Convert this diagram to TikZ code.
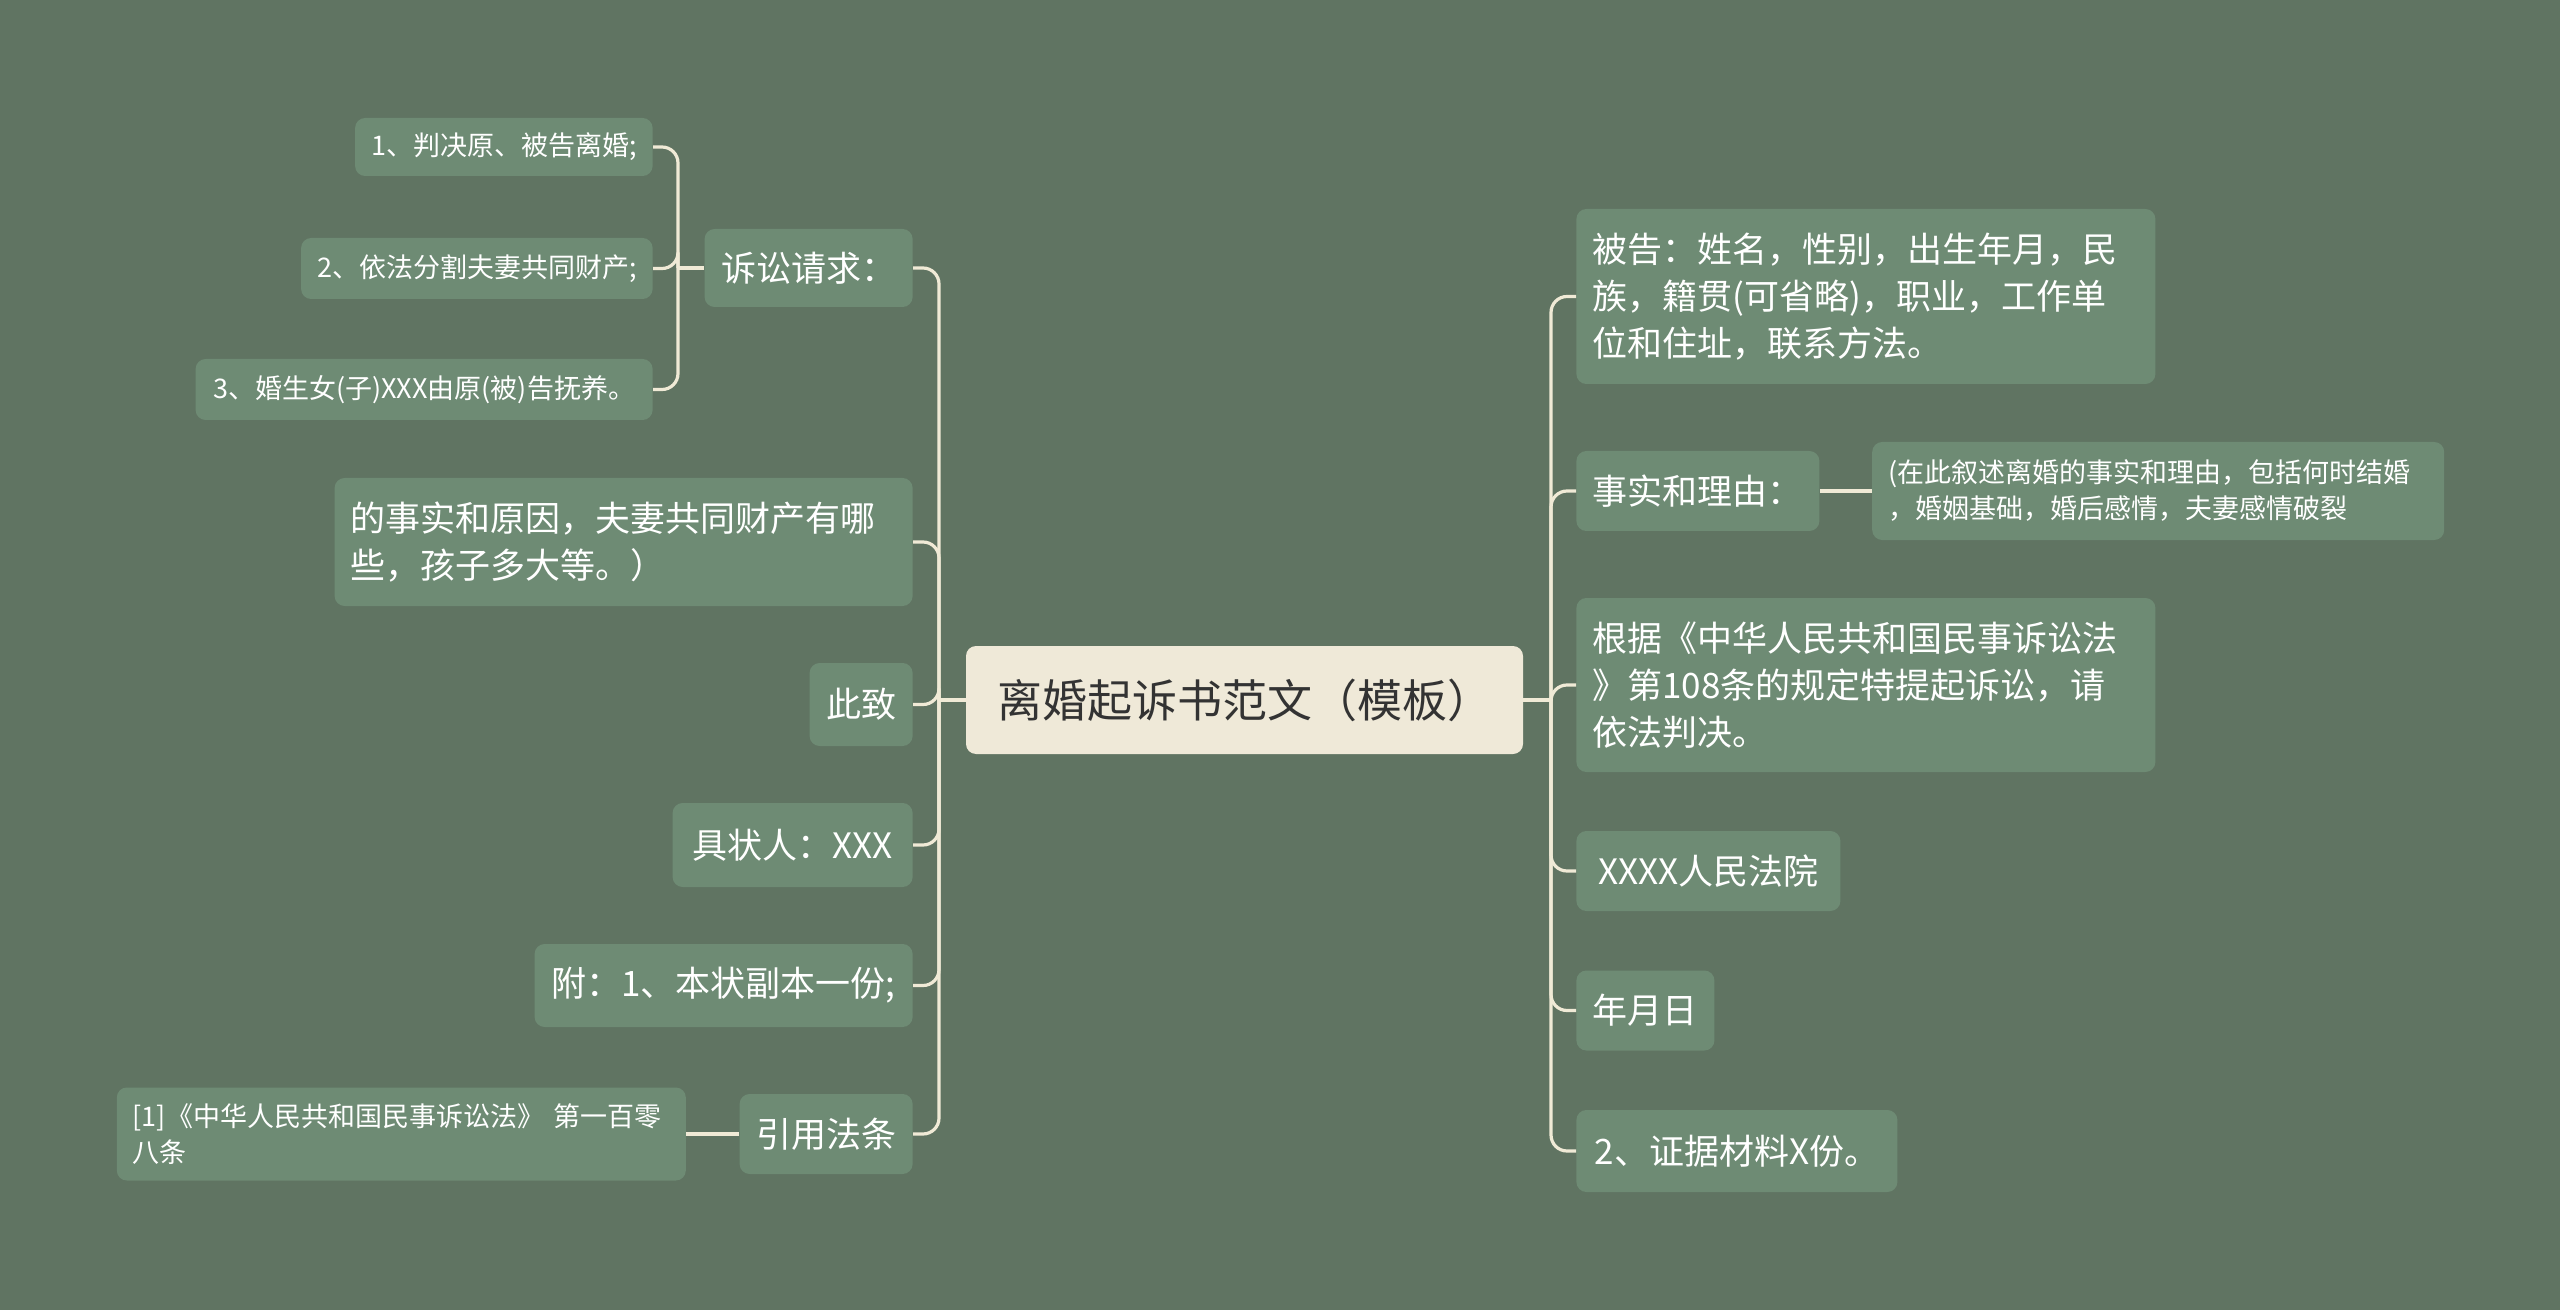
\documentclass[tikz,border=0pt]{standalone}
\usepackage{fontspec}
\setmainfont{Noto Sans CJK SC}
\usetikzlibrary{positioning}
\definecolor{bgc}{HTML}{607462}
\definecolor{boxc}{HTML}{6E8B74}
\definecolor{rootc}{HTML}{EFE9D8}
\definecolor{linec}{HTML}{F0EAD6}
\definecolor{inkc}{HTML}{333333}

\begin{document}
\begin{tikzpicture}[x=0.5pt,y=-0.5pt, every node/.style={align=left,inner xsep=8pt,inner ysep=0pt},
  topicbox/.style={fill=boxc,rounded corners=5pt,text=white,font=\fontsize{17.5}{23.5}\selectfont,minimum height=40pt},
  leafbox/.style={topicbox,font=\fontsize{13.5}{18}\selectfont},
  rootbox/.style={fill=rootc,rounded corners=5pt,text=inkc,font=\fontsize{22.5}{27}\selectfont,minimum width=278.5pt,minimum height=54pt},
  wire/.style={draw=linec,line width=1.6pt,rounded corners=8pt}]
\fill[bgc] (0,0) rectangle (2560,1310);
\useasboundingbox (0,0) rectangle (2560,1310);

\node[rootbox] (R) at (1244.5,700) {离婚起诉书范文（模板）};

\node[topicbox,anchor=east,minimum width=104pt,minimum height=39pt] (Q) at (913,268) {诉讼请求：};
\node[leafbox,anchor=east,minimum width=147pt,minimum height=29pt] (Q1) at (653,147) {1、判决原、被告离婚;};
\node[leafbox,anchor=east,minimum width=174pt,minimum height=30.5pt] (Q2) at (653,268.5) {2、依法分割夫妻共同财产;};
\node[leafbox,anchor=east,minimum width=228.5pt,minimum height=30.5pt] (Q3) at (653,389.5) {3、婚生女(子)XXX由原(被)告抚养。};
\node[topicbox,anchor=east,text width=273pt,minimum height=64pt] (F) at (913,542) {的事实和原因，夫妻共同财产有哪\\些，孩子多大等。）};
\node[topicbox,anchor=east,minimum width=51.5pt,minimum height=41.5pt] (C) at (913,704.5) {此致};
\node[topicbox,anchor=east,minimum width=120pt,minimum height=42pt] (S) at (913,845) {具状人：XXX};
\node[topicbox,anchor=east,minimum width=189pt,minimum height=41.5pt] (A) at (913,985.5) {附：1、本状副本一份;};
\node[topicbox,anchor=east,minimum width=86.5pt] (L) at (913,1134) {引用法条};
\node[leafbox,left=26.5pt of L,text width=268.5pt,minimum height=46.5pt] (L1) {[1]《中华人民共和国民事诉讼法》 第一百零\\八条};

\node[topicbox,anchor=west,text width=273.5pt,minimum height=87.5pt] (B) at (1576,296.5) {被告：姓名，性别，出生年月，民\\族，籍贯(可省略)，职业，工作单\\位和住址，联系方法。};
\node[topicbox,anchor=west,minimum width=121.5pt] (FR) at (1576,491) {事实和理由：};
\node[leafbox,right=26pt of FR,text width=270pt,minimum height=49pt] (FR1) {(在此叙述离婚的事实和理由，包括何时结婚\\，婚姻基础，婚后感情，夫妻感情破裂};
\node[topicbox,anchor=west,text width=273.5pt,minimum height=87pt] (G) at (1576,685) {根据《中华人民共和国民事诉讼法\\》第108条的规定特提起诉讼，请\\依法判决。};
\node[topicbox,anchor=west,minimum width=132pt] (CT) at (1576,871) {XXXX人民法院};
\node[topicbox,anchor=west,minimum width=69pt] (DT) at (1576,1010.5) {年月日};
\node[topicbox,anchor=west,minimum width=160.5pt,minimum height=41pt] (EV) at (1576,1151) {2、证据材料X份。};

\coordinate (LH) at (939,700);
\coordinate (RH) at (1551,700);
\coordinate (QH) at (678,268);

\draw[wire] (R.west) -- (LH);
\draw[wire] (R.east) -- (RH);
\draw[wire] (LH) |- (Q.east);
\draw[wire] (LH) |- (F.east);
\draw[wire] (LH) |- (C.east);
\draw[wire] (LH) |- (S.east);
\draw[wire] (LH) |- (A.east);
\draw[wire] (LH) |- (L.east);
\draw[wire] (Q.west) -- (QH);
\draw[wire] (QH) |- (Q1.east);
\draw[wire] (QH) |- (Q2.east);
\draw[wire] (QH) |- (Q3.east);
\draw[wire] (L) -- (L1);
\draw[wire] (RH) |- (B.west);
\draw[wire] (RH) |- (FR.west);
\draw[wire] (RH) |- (G.west);
\draw[wire] (RH) |- (CT.west);
\draw[wire] (RH) |- (DT.west);
\draw[wire] (RH) |- (EV.west);
\draw[wire] (FR) -- (FR1);
\end{tikzpicture}
\end{document}
